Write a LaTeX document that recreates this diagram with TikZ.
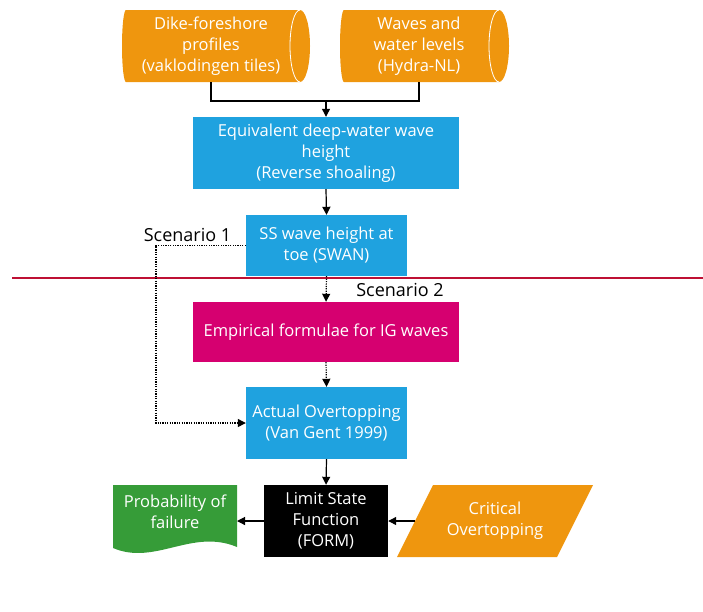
\documentclass[tikz,border=0pt]{standalone}
\usepackage{fontspec}
\setmainfont{Open Sans}
\usetikzlibrary{arrows.meta}
\definecolor{cOrange}{RGB}{239,150,14}
\definecolor{cBlue}{RGB}{31,162,223}
\definecolor{cMag}{RGB}{214,0,112}
\definecolor{cGreen}{RGB}{54,156,56}
\definecolor{cRed}{RGB}{190,16,52}
\begin{document}
\begin{tikzpicture}[x=1pt,y=1pt,
  font=\fontsize{16.5}{21}\selectfont,
  box/.style={rectangle, inner sep=0pt, align=center, text=white},
  txt/.style={inner sep=0pt, align=center, text=white},
  lbl/.style={inner sep=0pt, text=black, font=\fontsize{18}{22}\selectfont},
  conn/.style={line width=1.2pt, black},
  arr/.style={conn, -{Triangle[length=8pt,width=8pt]}},
  darr/.style={arr, dash pattern=on 1.2pt off 1.2pt},
  dline/.style={conn, dash pattern=on 1.2pt off 1.2pt}]
\useasboundingbox (0,0) rectangle (703,-611);

% cylinders
\fill[cOrange] (126,-10) -- (300,-10) arc[start angle=90, end angle=-90, x radius=10, y radius=36]
  -- (126,-82) arc[start angle=270, end angle=90, x radius=4, y radius=36] -- cycle;
\draw[white, line width=0.8pt] (300,-10) arc[start angle=90, end angle=270, x radius=10, y radius=36];
\node[txt] (cyl1) at (211,-46) {Dike-foreshore\\profiles\\(vaklodingen tiles)};
\coordinate (c1b) at (211,-82);

\fill[cOrange] (344,-10) -- (499,-10) arc[start angle=90, end angle=-90, x radius=10, y radius=36]
  -- (344,-82) arc[start angle=270, end angle=90, x radius=4, y radius=36] -- cycle;
\draw[white, line width=0.8pt] (499,-10) arc[start angle=90, end angle=270, x radius=10, y radius=36];
\node[txt] (cyl2) at (419,-46) {Waves and\\water levels\\(Hydra-NL)};
\coordinate (c2b) at (419,-82);

% boxes
\node[box, fill=cBlue, minimum width=266, minimum height=72] (eq) at (326,-153)
  {Equivalent deep-water wave\\height\\(Reverse shoaling)};
\node[box, fill=cBlue, minimum width=161, minimum height=61] (ss) at (326.5,-245.5)
  {SS wave height at\\toe (SWAN)};
\node[box, fill=cMag, minimum width=266, minimum height=60] (emp) at (326,-332)
  {Empirical formulae for IG waves};
\node[box, fill=cBlue, minimum width=161, minimum height=72] (act) at (326.5,-423)
  {Actual Overtopping\\(Van Gent 1999)};
\node[box, fill=black, minimum width=124, minimum height=72] (lsf) at (326,-521)
  {Limit State\\Function\\(FORM)};

% document shape
\fill[cGreen] (113,-485) -- (237,-485) -- (237,-547)
  .. controls (192,-528) and (155,-566) .. (113,-548) -- cycle;
\node[txt] (prob) at (175,-512) {Probability of\\failure};
\coordinate (docE) at (237,-521);

% parallelogram
\fill[cOrange] (433,-485) -- (593,-485) -- (557,-557) -- (397,-557) -- cycle;
\node[txt] (crit) at (495,-521) {Critical\\Overtopping};
\coordinate (parW) at (415,-521);

% red line
\coordinate (rl) at (12,-278);
\coordinate (rr) at (703,-278);
\draw[cRed, line width=2pt] (rl) -- (rr);

% labels
\node[lbl] (sc1) at (187.5,-235) {Scenario 1};
\node[lbl] (sc2) at (400,-290) {Scenario 2};

% connectors
\coordinate (m) at (326,-101);
\draw[conn] (c1b) |- (m) -| (c2b);
\draw[arr] (m) -- (eq.north);
\draw[arr] (eq.south) -- (ss.north);
\coordinate (s1) at (156,-245.5);
\draw[darr] (ss.west) -- (s1) |- (act.west);
\draw[darr] (ss.south) -- (emp.north);
\draw[darr] (emp.south) -- (act.north);
\draw[arr] (act.south) -- (lsf.north);
\draw[arr] (lsf.west) -- (docE);
\draw[arr] (parW) -- (lsf.east);
\end{tikzpicture}
\end{document}
